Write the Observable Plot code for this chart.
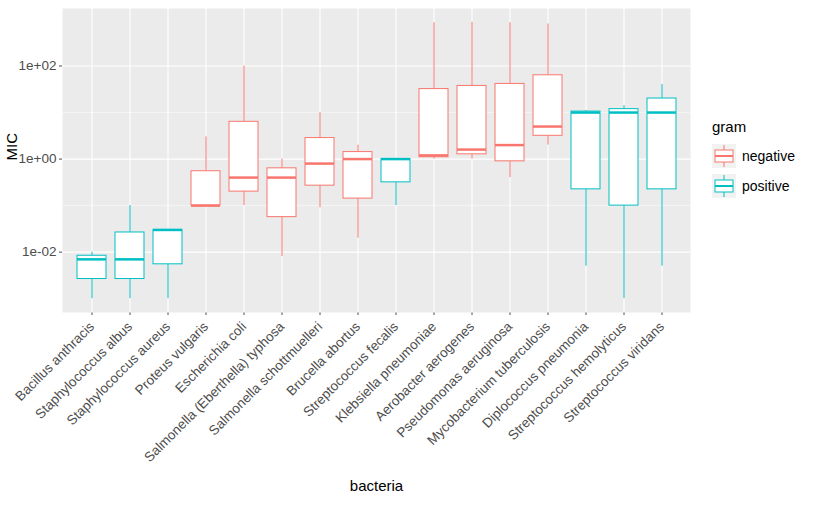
<!DOCTYPE html>
<html><head><meta charset="utf-8">
<script src="https://cdn.jsdelivr.net/npm/d3@7"></script>
<script src="https://cdn.jsdelivr.net/npm/@observablehq/plot@0.6"></script>
<style>
body{margin:0;background:#fff;font-family:"Liberation Sans",Arial,sans-serif;}
#wrap{position:relative;width:826px;height:510px;}
#legend{position:absolute;left:712px;top:118px;font-size:14px;color:#000;}
</style></head>
<body><div id="wrap"><div id="chart"></div><div id="legend"></div></div>
<script>
// bacteria in x order, gram stain and MIC for the three antibiotics
const bacteria = ["Bacillus anthracis","Staphylococcus albus","Staphylococcus aureus","Proteus vulgaris","Escherichia coli","Salmonella (Eberthella) typhosa","Salmonella schottmuelleri","Brucella abortus","Streptococcus fecalis","Klebsiella pneumoniae","Aerobacter aerogenes","Pseudomonas aeruginosa","Mycobacterium tuberculosis","Diplococcus pneumonia","Streptococcus hemolyticus","Streptococcus viridans"];
const gram = ["positive","positive","positive","negative","negative","negative","negative","negative","positive","negative","negative","negative","negative","positive","positive","positive"];
const penicillin =   [0.001,0.007,0.03,3,100,1,10,1,1,850,870,850,800,0.005,0.001,0.005];
const streptomycin = [0.01,0.1,0.03,0.1,0.4,0.4,0.8,2,1,1.2,1,2,5,11,14,10];
const neomycin =     [0.007,0.001,0.001,0.1,0.1,0.008,0.09,0.02,0.1,1,1.6,0.4,2,10,10,40];
const majorTicks = [1e-2,1,1e2];
const minorTicks = [1e-1,1e1];
const gramColors = {negative:"#F8766D", positive:"#00BFC4"};

// box statistics computed on log10 values (as ggplot does with a log scale)
const stats = bacteria.map((b,i) => {
  const v = [penicillin[i],streptomycin[i],neomycin[i]].map(Math.log10).sort(d3.ascending);
  const q = p => Math.pow(10, d3.quantile(v,p));
  return {name:b, gram:gram[i], min:q(0), q1:q(0.25), median:q(0.5), q3:q(0.75), max:q(1)};
});

const plot = Plot.plot({
  width:700, height:510,
  marginLeft:62, marginRight:10, marginTop:8, marginBottom:198,
  style:{fontFamily:"Liberation Sans, Arial, sans-serif", fontSize:"13.5px", color:"#4D4D4D", background:"white"},
  x:{type:"band", domain:bacteria, paddingInner:0.25, paddingOuter:0.225, label:null, tickRotate:-45, tickSize:3},
  y:{type:"log", domain:[Math.pow(10,-3.297),Math.pow(10,3.236)], label:null, ticks:majorTicks,
     tickFormat:d => d3.format(".0e")(d).replace(/e([+-])(\d)$/,"e$10$2"), tickSize:3, tickPadding:3},
  color:{domain:Object.keys(gramColors), range:Object.values(gramColors)},
  marks:[
    Plot.frame({fill:"#EBEBEB", stroke:null}),
    Plot.ruleY(minorTicks, {stroke:"white", strokeWidth:0.5}),
    Plot.ruleY(majorTicks, {stroke:"white", strokeWidth:1.1}),
    Plot.ruleX(bacteria, {x:d=>d, stroke:"white", strokeWidth:1.1}),
    Plot.ruleX(stats, {x:"name", y1:"min", y2:"q1", stroke:"gram"}),
    Plot.ruleX(stats, {x:"name", y1:"q3", y2:"max", stroke:"gram"}),
    Plot.barY(stats, {x:"name", y1:"q1", y2:"q3", fill:"white", stroke:"gram", strokeWidth:1}),
    Plot.tickY(stats, {x:"name", y:"median", stroke:"gram", strokeWidth:2.5}),
    Plot.text(["MIC"], {frameAnchor:"left", dx:-50, rotate:-90, fontSize:15, fill:"black"}),
    Plot.text(["bacteria"], {frameAnchor:"bottom", dy:178, fontSize:15, fill:"black"})
  ]
});
document.getElementById("chart").append(plot);

// legend
const lg = d3.select("#legend");
lg.append("div").text("gram").style("font-size","15px").style("margin-bottom","6px");
Object.entries(gramColors).forEach(([k,c]) => {
  const row = lg.append("div").style("display","flex").style("align-items","center").style("height","30px");
  const s = row.append("svg").attr("width",24).attr("height",24).style("background","#F2F2F2");
  s.append("line").attr("x1",12).attr("x2",12).attr("y1",1).attr("y2",23).attr("stroke",c);
  s.append("rect").attr("x",3).attr("y",6).attr("width",18).attr("height",12).attr("fill","white").attr("stroke",c);
  s.append("line").attr("x1",3).attr("x2",21).attr("y1",12).attr("y2",12).attr("stroke",c).attr("stroke-width",2);
  row.append("span").text(k).style("margin-left","6px").style("font-size","14px");
});
</script></body></html>
